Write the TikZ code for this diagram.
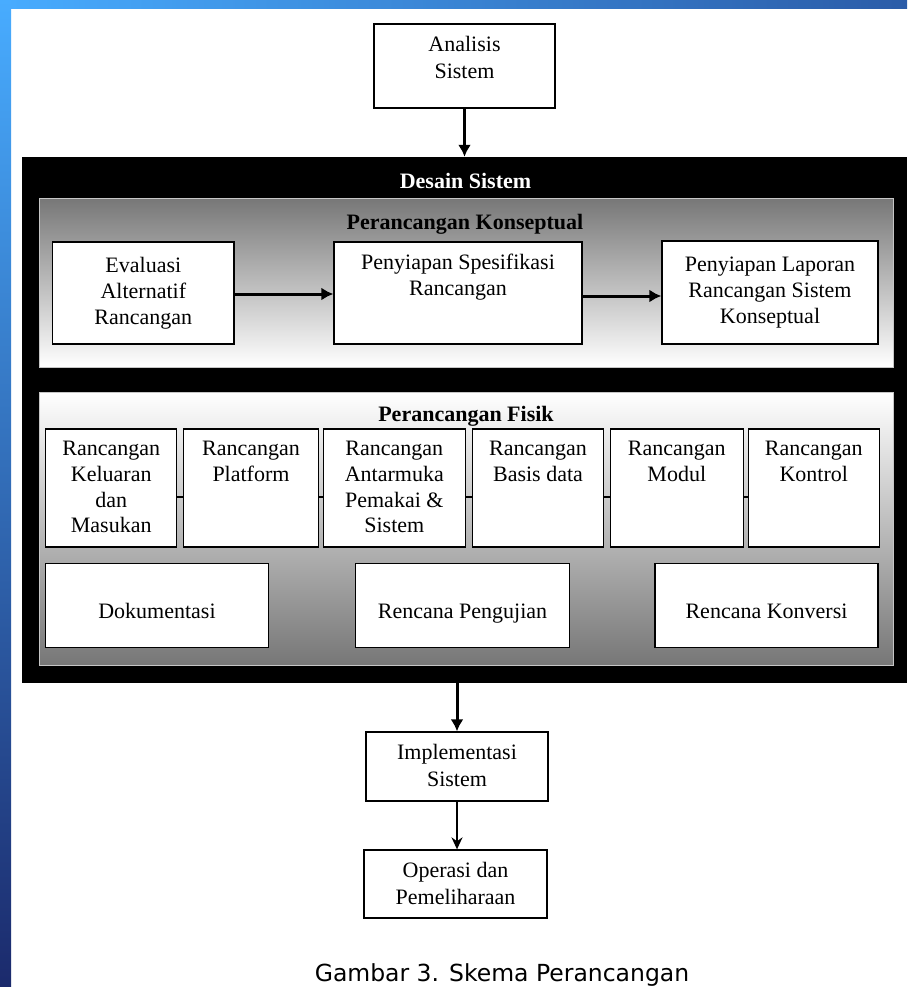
\documentclass[tikz,border=0pt]{standalone}
\usepackage{fontspec}
\setmainfont{Liberation Serif}
\newfontfamily\capfont{DejaVu Sans}
\usetikzlibrary{arrows.meta}

% slide frame colours
\definecolor{frameTL}{HTML}{48ACFF}
\definecolor{frameTM}{HTML}{3A7CF5}
\definecolor{frameTR}{HTML}{2B5CA8}
\definecolor{frameLM}{HTML}{2F6CEE}
\definecolor{frameLB}{HTML}{1B2A6C}
\definecolor{panelgray}{HTML}{777777}

\begin{document}
\begin{tikzpicture}[x=1pt,y=-1pt,
  txt/.style={font=\fontsize{22}{25.8}\selectfont, align=center},
  box/.style={draw=black, fill=white, line width=1.3pt, inner sep=0pt, txt},
  toplab/.style={anchor=north, inner sep=0pt, yshift=-12.5pt, txt},
  toplabwide/.style={toplab, font=\fontsize{22}{27.5}\selectfont},
  title/.style={font=\bfseries\fontsize{22}{26}\selectfont, anchor=base, inner sep=0pt},
  panel/.style={draw=gray!45, line width=0.8pt, inner sep=0pt},
  arr/.style={line width=3pt, -{Latex[length=12pt,width=13pt]}},
  thinarr/.style={line width=1.6pt, -{Stealth[length=12pt,width=11pt]}},
  link/.style={line width=1.3pt}
]
\useasboundingbox (0,0) rectangle (907,987);
\fill[white] (0,0) rectangle (907,987);

% blue slide frame
\fill[left color=frameTL, middle color=frameTM, right color=frameTR] (0,0) rectangle (907,9);
\fill[top color=frameTL, middle color=frameLM, bottom color=frameLB] (0,0) rectangle (11,987);

% analysis step
\node[box, minimum width=181, minimum height=84,
      label={[toplabwide, name=anaT]north:{Analisis\\Sistem}}] (ana) at (464.5,66) {};

% system design block
\node[fill=black, inner sep=0pt, minimum width=885, minimum height=526] (desain) at (464.5,420) {};
\node[title, text=white] (desainT) at (465.5,188.3) {Desain Sistem};

% conceptual design panel
\node[panel, top color=panelgray, bottom color=white, minimum width=854, minimum height=169] (konsep) at (466.3,282.5) {};
\node[title] (konsepT) at (465,229.5) {Perancangan Konseptual};

\node[box, minimum width=181.3, minimum height=102] (eval) at (143.35,293) {Evaluasi\\Alternatif\\Rancangan};
\node[box, minimum width=248, minimum height=102,
      label={[toplab, name=spesT]north:{Penyiapan Spesifikasi\\Rancangan}}] (spes) at (458,293) {};
\node[box, minimum width=216, minimum height=103] (lap) at (770,292.5) {Penyiapan Laporan\\Rancangan Sistem\\Konseptual};

\draw[arr] ([yshift=-1pt]eval.east) -- ([yshift=-1pt]spes.west);
\draw[arr] ([yshift=-3pt]spes.east) -- ([yshift=-3pt]spes.east -| lap.west);

% physical design panel
\node[panel, top color=white, bottom color=panelgray, minimum width=854, minimum height=273] (fisik) at (466.3,528.5) {};
\node[title] (fisikT) at (466,421) {Perancangan Fisik};

\node[box, minimum width=131, minimum height=118,
      label={[toplab, name=k1T]north:{Rancangan\\Keluaran\\dan\\Masukan}}] (k1) at (111.2,488) {};
\node[box, minimum width=134.6, minimum height=118,
      label={[toplab, name=k2T]north:{Rancangan\\Platform}}] (k2) at (251,488) {};
\node[box, minimum width=142, minimum height=118,
      label={[toplab, name=k3T]north:{Rancangan\\Antarmuka\\Pemakai \&\\Sistem}}] (k3) at (394.3,488) {};
\node[box, minimum width=131.4, minimum height=118,
      label={[toplab, name=k4T]north:{Rancangan\\Basis data}}] (k4) at (538,488) {};
\node[box, minimum width=133, minimum height=118,
      label={[toplab, name=k5T]north:{Rancangan\\Modul}}] (k5) at (676.8,488) {};
\node[box, minimum width=131, minimum height=118,
      label={[toplab, name=k6T]north:{Rancangan\\Kontrol}}] (k6) at (813.8,488) {};

\foreach \a/\b in {k1/k2, k2/k3, k3/k4, k4/k5, k5/k6}
  \draw[link] ([yshift=-9pt]\a.east) -- ([yshift=-9pt]\b.west);

\node[box, minimum width=222.6, minimum height=84, text height=24.6pt, text depth=0pt] (dok) at (157,605.7) {Dokumentasi};
\node[box, minimum width=213.6, minimum height=84, text height=24.6pt, text depth=0pt] (uji) at (462.5,605.7) {Rencana Pengujian};
\node[box, minimum width=223, minimum height=84, text height=24.6pt, text depth=0pt] (konv) at (766.5,605.7) {Rencana Konversi};

% implementation and operation
\node[box, minimum width=182, minimum height=69,
      label={[toplabwide, name=implT]north:{Implementasi\\Sistem}}] (impl) at (457,766.5) {};
\node[box, minimum width=183, minimum height=68,
      label={[toplabwide, name=operT]north:{Operasi dan\\Pemeliharaan}}] (oper) at (455.5,884) {};

\draw[arr] (ana.south) -- (ana.south |- desain.north);
\draw[arr] (impl.north |- desain.south) -- (impl.north);
\draw[thinarr] (impl.south) -- (impl.south |- oper.north);

% caption
\node[font=\capfont\fontsize{23.5}{28}\selectfont, anchor=base, inner sep=0pt] (cap) at (502,981) {Gambar 3. Skema Perancangan};
\end{tikzpicture}
\end{document}
